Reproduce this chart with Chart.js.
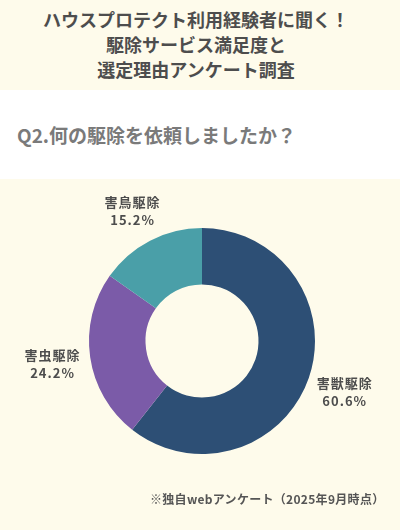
<!DOCTYPE html>
<html lang="ja">
<head>
<meta charset="utf-8">
<script src="https://cdn.jsdelivr.net/npm/chart.js@4/dist/chart.umd.min.js"></script>
<style>
html,body{margin:0;padding:0;}
body{width:400px;height:530px;background:#fefbeb;font-family:"Noto Sans CJK JP","Noto Sans",sans-serif;position:relative;overflow:hidden;}
.head{position:absolute;left:0;top:0;width:400px;height:90px;background:#fefbeb;text-align:center;}
.head h1{margin:0;padding-top:7px;font-size:18px;line-height:25px;font-weight:700;color:#4d4d4d;padding-right:8px;}
.q{position:absolute;left:0;top:90px;width:400px;height:89px;background:#fff;}
.q p{margin:0;position:absolute;left:17px;top:31px;font-size:19px;line-height:28px;font-weight:700;color:#7a7a7a;}
.box{position:absolute;left:0;top:180px;width:400px;height:350px;}
.note{position:absolute;left:150px;top:489px;font-size:12px;line-height:20px;font-weight:700;color:#555;letter-spacing:0.3px;}
</style>
</head>
<body>
<div class="head"><h1>ハウスプロテクト利用経験者に聞く！<br>駆除サービス満足度と<br>選定理由アンケート調査</h1></div>
<div class="q"><p>Q2.何の駆除を依頼しましたか？</p></div>
<div class="box"><canvas id="chart" width="400" height="350"></canvas></div>
<div class="note">※独自webアンケート（2025年9月時点）</div>
<script>
const labels=['害獣駆除','害虫駆除','害鳥駆除'];
const values=[60.6,24.2,15.2];
const colors=['#2d4f75','#7b5ba8','#4a9fa8'];

// ラベルを外側に描く
const outLabels={
  id:'outLabels',
  afterDatasetsDraw(chart){
    const ctx=chart.ctx;
    const arcs=chart.getDatasetMeta(0).data;
    ctx.save();
    ctx.fillStyle='#4d4d4d';
    ctx.textAlign='center';
    ctx.textBaseline='middle';
    ctx.font='bold 13px "Noto Sans CJK JP", sans-serif';
    ctx.letterSpacing='1px';
    arcs.forEach((a,i)=>{
      const mid=(a.startAngle+a.endAngle)/2;
      const r=a.outerRadius+36;
      const x=a.x+Math.cos(mid)*(r+2);
      const y=a.y+Math.sin(mid)*r+2;
      ctx.fillText(labels[i],x,y-9);
      ctx.fillText(values[i].toFixed(1)+'%',x,y+9);
    });
    ctx.restore();
  }
};

new Chart(document.getElementById('chart'),{
  type:'doughnut',
  data:{labels,datasets:[{data:values,backgroundColor:colors,borderWidth:0}]},
  options:{
    responsive:false,animation:false,cutout:'50%',
    layout:{padding:{left:89,right:85,top:48,bottom:76}},
    plugins:{legend:{display:false},tooltip:{enabled:false}}
  },
  plugins:[outLabels]
});
</script>
</body>
</html>
